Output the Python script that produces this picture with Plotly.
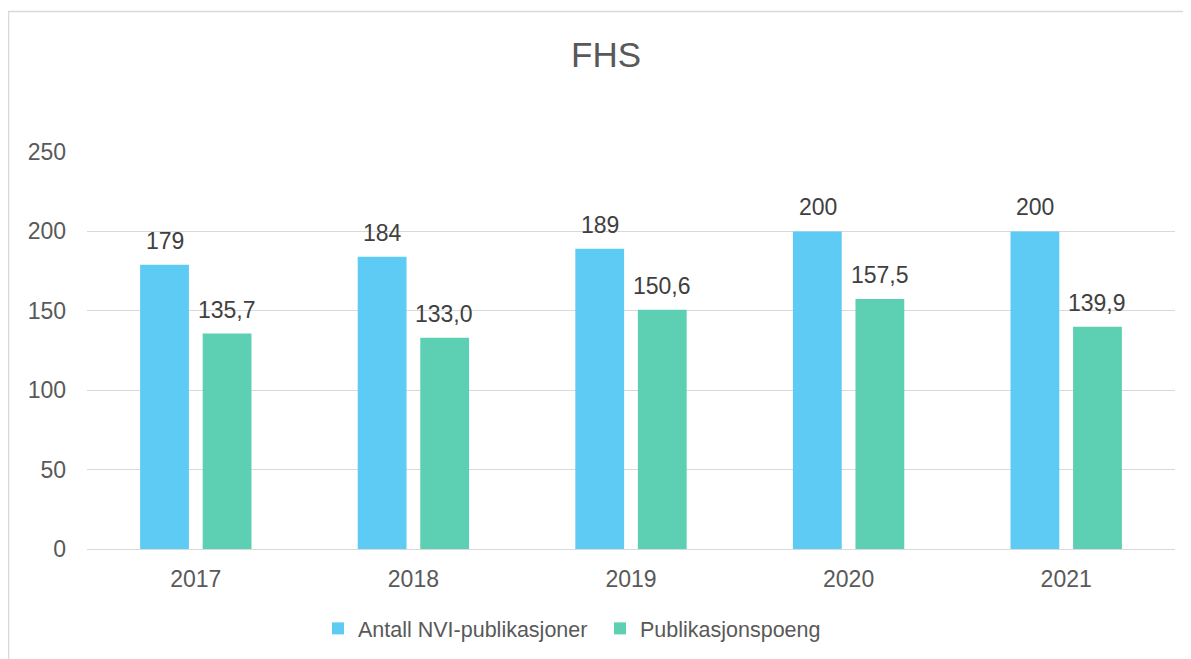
import plotly.graph_objects as go

years = ["2017", "2018", "2019", "2020", "2021"]
antall = [179, 184, 189, 200, 200]
poeng = [135.7, 133.0, 150.6, 157.5, 139.9]
series_names = ["Antall NVI-publikasjoner", "Publikasjonspoeng"]
colors = ["#5DCBF3", "#5DCFB2"]
ytick_vals = [0, 50, 100, 150, 200, 250]

FONT = "Liberation Sans, Arial, sans-serif"
W, H = 1183, 651  # page body has an 8px margin

fig = go.Figure()
fig.add_trace(go.Bar(x=years, y=antall, name=series_names[0], marker_color=colors[0],
                     marker_line_width=0))
fig.add_trace(go.Bar(x=years, y=poeng, name=series_names[1], marker_color=colors[1],
                     marker_line_width=0))

def fmt(v):
    if isinstance(v, int):
        return str(v)
    return f"{v:.1f}".replace(".", ",")

annotations = []
for vals, shift in ((antall, -31), (poeng, 31)):
    for i, v in enumerate(vals):
        annotations.append(dict(x=i, y=v, xref="x", yref="y", text=fmt(v),
                                showarrow=False, xshift=shift, yshift=9,
                                yanchor="bottom", xanchor="center",
                                font=dict(family=FONT, size=23, color="#404040")))

fig.update_layout(
    width=W, height=H,
    margin=dict(l=79, r=16, t=144, b=110, autoexpand=False),
    paper_bgcolor="white", plot_bgcolor="white",
    barmode="group", bargap=0.425, bargroupgap=0.22,
    title=dict(text="FHS", x=598 / W, xref="container", xanchor="center",
               y=1 - 47 / H, yref="container", yanchor="middle",
               font=dict(family=FONT, size=35, color="#595959")),
    font=dict(family=FONT, color="#595959"),
    showlegend=True,
    legend=dict(orientation="h", x=0.2123, xanchor="left", y=-0.2, yanchor="middle",
                font=dict(family=FONT, size=21.5, color="#595959"),
                itemwidth=30, traceorder="normal",
                entrywidth=237, entrywidthmode="pixels"),
    annotations=annotations,
    shapes=[dict(type="rect", xref="paper", yref="paper",
                 x0=(0.5 - 79) / 1088, x1=1.2, y0=-1, y1=(541 - 3.5) / 397,
                 line=dict(color="#D9D9D9", width=1.5), fillcolor="rgba(0,0,0,0)",
                 layer="below")],
)
fig.update_yaxes(range=[0, 250], tickvals=ytick_vals, showgrid=True, gridcolor="#D9D9D9",
                 gridwidth=1, zeroline=False, showline=False, automargin=False,
                 tickfont=dict(family=FONT, size=23, color="#595959"),
                 ticks="", ticklabelstandoff=20)
fig.update_xaxes(type="category", range=[-0.5, len(years) - 0.5],
                 showline=True, linecolor="#D9D9D9", linewidth=1, ticks="",
                 automargin=False,
                 tickfont=dict(family=FONT, size=23, color="#595959"),
                 ticklabelstandoff=9)

fig.write_html("out.html")
